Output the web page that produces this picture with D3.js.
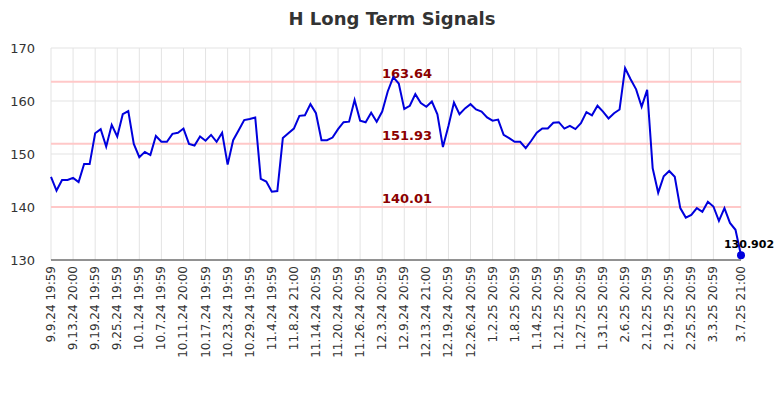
<!DOCTYPE html>
<html><head><meta charset="utf-8">
<script src="https://cdn.jsdelivr.net/npm/d3@7"></script>
<style>body{margin:0;background:#fff}text{font-family:"DejaVu Sans",sans-serif}</style>
</head><body>
<svg class="chart" width="784" height="400"></svg>
<script>
var tickLabels = ['9.9.24 19:59','9.13.24 20:00','9.19.24 19:59','9.25.24 19:59','10.1.24 19:59','10.7.24 19:59','10.11.24 20:00','10.17.24 19:59','10.23.24 19:59','10.29.24 19:59','11.4.24 19:59','11.8.24 21:00','11.14.24 20:59','11.20.24 20:59','11.26.24 20:59','12.3.24 20:59','12.9.24 20:59','12.13.24 21:00','12.19.24 20:59','12.26.24 20:59','1.2.25 20:59','1.8.25 20:59','1.14.25 20:59','1.21.25 20:59','1.27.25 20:59','1.31.25 20:59','2.6.25 20:59','2.12.25 20:59','2.19.25 20:59','2.25.25 20:59','3.3.25 20:59','3.7.25 21:00'];
var values = [145.7,143.1,145.1,145.1,145.5,144.7,148.1,148.1,153.9,154.7,151.4,155.5,153.3,157.5,158.1,151.9,149.4,150.4,149.8,153.4,
152.3,152.3,153.8,154.0,154.8,151.9,151.6,153.3,152.5,153.6,152.3,154.0,148.0,152.6,154.5,156.4,156.6,156.9,145.3,144.8,
142.9,143.0,153.0,153.9,154.8,157.2,157.3,159.4,157.7,152.6,152.6,153.1,154.7,156.0,156.1,160.2,156.3,156.0,157.8,156.1,
158.0,161.8,164.5,163.3,158.5,159.1,161.3,159.6,158.9,159.9,157.5,151.3,155.3,159.7,157.5,158.6,159.4,158.4,158.0,156.9,
156.3,156.5,153.6,153.0,152.3,152.3,151.1,152.5,154.0,154.8,154.8,155.9,156.0,154.8,155.3,154.7,155.8,157.9,157.3,159.1,
158.0,156.7,157.7,158.4,166.2,164.1,162.2,158.9,162.1,147.3,142.7,145.8,146.8,145.7,139.8,138.0,138.5,139.8,139.1,141.0,
140.1,137.4,139.8,137.0,135.7,130.902];
var levels = [163.64, 151.93, 140.01];
var yTicks = [130, 140, 150, 160, 170];

var svg = d3.select('.chart');
var padding = {t: 48, r: 43, b: 140, l: 51};
var w = 784 - padding.l - padding.r, h = 400 - padding.t - padding.b;
var g = svg.append('g').attr('transform', 'translate(' + padding.l + ',' + padding.t + ')');

var n = values.length;
var tickIdx = tickLabels.map(function(d, i) { return i < tickLabels.length - 1 ? i * 4 : n - 1; });
var x = d3.scaleLinear().domain([0, n - 1]).range([0, w]);
var y = d3.scaleLinear().domain([130, 170]).range([h, 0]);

svg.append('text').attr('x', 392).attr('y', 25).attr('text-anchor', 'middle')
  .style('font-size', '18px').style('font-weight', 'bold').style('fill', '#333').text('H Long Term Signals');

// grid
g.selectAll('.vg').data(tickIdx).enter().append('line')
  .attr('x1', function(d) { return x(d); }).attr('x2', function(d) { return x(d); })
  .attr('y1', 0).attr('y2', h).attr('stroke', '#e3e3e3');
g.selectAll('.hg').data(yTicks).enter().append('line')
  .attr('x1', 0).attr('x2', w).attr('y1', function(d) { return y(d); }).attr('y2', function(d) { return y(d); })
  .attr('stroke', '#e3e3e3');

// levels
g.selectAll('.lv').data(levels).enter().append('line')
  .attr('x1', 0).attr('x2', w).attr('y1', function(d) { return y(d); }).attr('y2', function(d) { return y(d); })
  .attr('stroke', '#ffc8c8').attr('stroke-width', 2);
g.selectAll('.lt').data(levels).enter().append('text')
  .attr('x', 356).attr('y', function(d) { return y(d) - 4; }).attr('text-anchor', 'middle')
  .style('font-size', '13px').style('font-weight', 'bold').style('fill', '#8b0000')
  .text(function(d) { return d.toFixed(2); });

// y labels
g.selectAll('.yl').data(yTicks).enter().append('text')
  .attr('x', -16).attr('y', function(d) { return y(d) + 5; }).attr('text-anchor', 'end')
  .style('font-size', '13px').style('fill', '#333').text(function(d) { return d; });

// x axis
g.append('line').attr('x1', 0).attr('x2', w).attr('y1', h).attr('y2', h).attr('stroke', '#333');
g.selectAll('.xl').data(tickLabels).enter().append('text')
  .attr('transform', function(d, i) { return 'translate(' + (x(tickIdx[i]) + 4) + ',' + (h + 6) + ') rotate(-90)'; })
  .attr('text-anchor', 'end').style('font-size', '12px').style('fill', '#333').text(function(d) { return d; });

var line = d3.line().x(function(d, i) { return x(i); }).y(function(d) { return y(d); });
g.append('path').datum(values).attr('d', line).attr('fill', 'none').attr('stroke', '#0000dd').attr('stroke-width', 2);

g.append('circle').attr('cx', x(n - 1)).attr('cy', y(values[n - 1])).attr('r', 4).attr('fill', '#0000dd');
g.append('text').attr('x', x(n - 1) + 8).attr('y', y(values[n - 1]) - 7).attr('text-anchor', 'middle')
  .style('font-size', '11px').style('font-weight', 'bold').style('fill', '#000').text(values[n - 1]);
</script>
</body></html>
